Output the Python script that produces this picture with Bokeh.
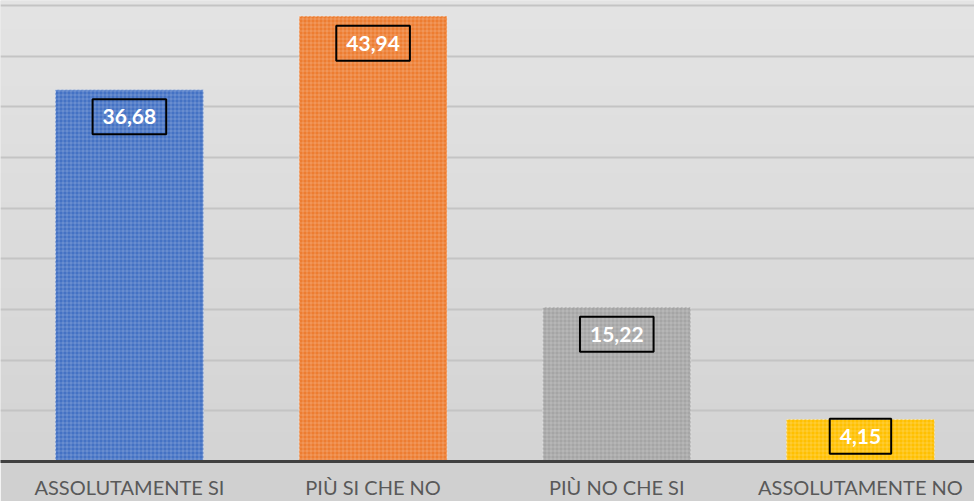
import numpy as np
from bokeh.plotting import figure
from bokeh.models import Range1d, FixedTicker, ColumnDataSource
from bokeh.core.properties import value
from bokeh.embed import file_html
from bokeh.resources import INLINE

categories = ["ASSOLUTAMENTE SI", "PIÙ SI CHE NO", "PIÙ NO CHE SI", "ASSOLUTAMENTE NO"]
values = [36.68, 43.94, 15.22, 4.15]
labels = ["36,68", "43,94", "15,22", "4,15"]
colors = ["#4472C4", "#ED7D31", "#A5A5A5", "#FFC000"]
grid_ticks = [0, 5, 10, 15, 20, 25, 30, 35, 40, 45]

xs = list(range(len(categories)))
Y_END = 45.49
FRAME_H = 460

p = figure(width=974, height=501, output_backend="svg", toolbar_location=None,
           x_range=Range1d(-0.529, 3.468), y_range=Range1d(0, Y_END),
           y_axis_location=None, min_border_left=0, min_border_right=0,
           min_border_top=0, min_border_bottom=0)
p.outline_line_color = None
p.border_fill_color = "#d0d0d0"
p.background_fill_color = "#dcdcdc"

# subtle vertical gradient background for the frame
top = np.array([0xe4, 0xe4, 0xe4], dtype=float)
bot = np.array([0xd4, 0xd4, 0xd4], dtype=float)
t = np.linspace(0, 1, 64)[:, None]
rgb = (bot * (1 - t) + top * t).astype(np.uint32)
img = (255 << 24) | (rgb[:, 2] << 16) | (rgb[:, 1] << 8) | rgb[:, 0]
img = img.reshape(64, 1).astype(np.uint32)
xr = p.x_range
p.image_rgba(image=[img], x=xr.start, y=0, dw=xr.end - xr.start, dh=Y_END, level="image")

# grid
p.xgrid.visible = False
p.ygrid.ticker = FixedTicker(ticks=grid_ticks)
p.ygrid.grid_line_color = "#c4c4c4"
p.ygrid.grid_line_width = 2

src = ColumnDataSource(dict(x=xs, top=values, color=colors, label=labels))
p.vbar(x="x", top="top", width=0.607, bottom=0, source=src,
       fill_color="color", line_color="white", line_alpha=0.45, line_width=1,
       line_dash="2 2",
       hatch_pattern="+", hatch_color="white", hatch_alpha=0.2,
       hatch_scale=4, hatch_weight=1)

ppu = FRAME_H / Y_END
offsets = [min(27, v * ppu * 0.4) for v in values]
src.data["yoff"] = offsets
p.text(x="x", y="top", text="label", source=src, y_offset="yoff",
       text_align="center", text_baseline="middle",
       text_font=value("Lato"), text_font_style="bold",
       text_font_size="21px", text_color="white",
       border_line_color="black", border_line_width=2,
       padding=10)

ax = p.xaxis[0]
ax.ticker = FixedTicker(ticks=xs)
ax.major_label_overrides = {i: c for i, c in zip(xs, categories)}
ax.axis_line_color = "#404040"
ax.axis_line_width = 3
ax.major_tick_line_color = None
ax.minor_tick_line_color = None
ax.major_tick_out = 0
ax.major_tick_in = 0
ax.major_label_standoff = 13
ax.major_label_text_font = "Lato"
ax.major_label_text_font_size = "20px"
ax.major_label_text_color = "#595959"

open("out.html", "w").write(file_html(p, INLINE))
